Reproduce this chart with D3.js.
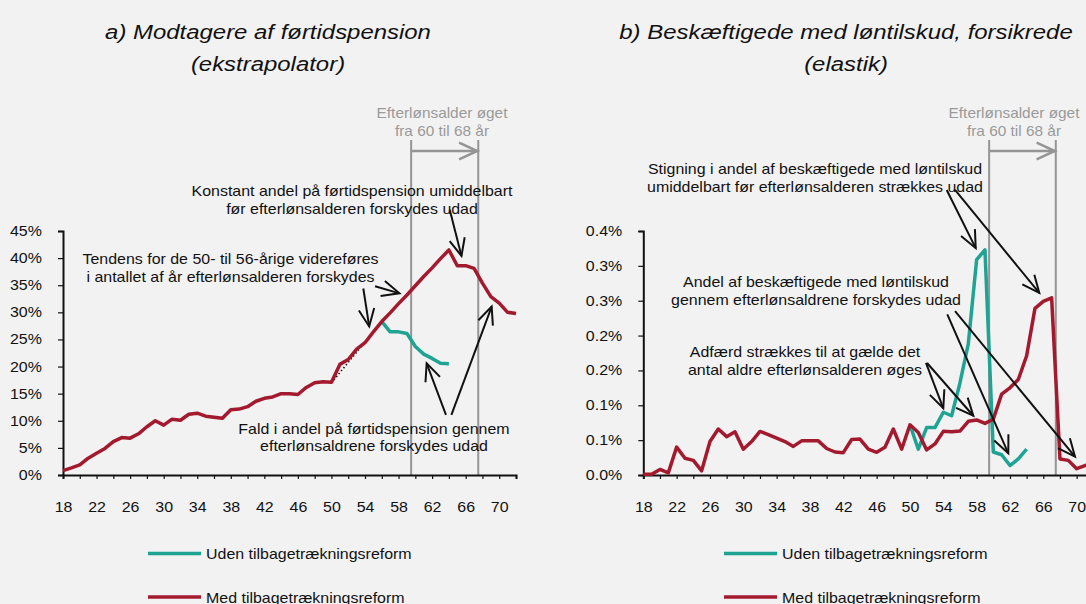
<!DOCTYPE html>
<html>
<head>
<meta charset="utf-8">
<script src="https://cdn.jsdelivr.net/npm/d3@7/dist/d3.min.js"></script>
<style>
  html, body { margin: 0; padding: 0; background: #F2F2F2; }
  svg { display: block; font-family: "Liberation Sans", Arial, sans-serif; }
</style>
</head>
<body>
<svg id="chart" width="1086" height="604"></svg>
<script>
// ---------------- DATA ----------------
const ages = [18,19,20,21,22,23,24,25,26,27,28,29,30,31,32,33,34,35,36,37,38,39,40,41,42,43,44,45,
              46,47,48,49,50,51,52,53,54,55,56,57,58,59,60,61,62,63,64,65,66,67,68,69,70,71,72];

// a) Modtagere af førtidspension (%)
const leftMed = [0.8,1.3,1.85,3.1,4.0,4.9,6.15,6.9,6.8,7.6,
                 8.9,10.0,9.2,10.3,10.1,11.2,11.4,10.85,10.65,10.45,
                 12.05,12.15,12.6,13.6,14.15,14.4,15.0,15.0,14.85,16.15,
                 17.0,17.2,17.1,20.4,21.3,23.2,24.4,26.4,28.3,29.9,
                 31.6,33.2,34.9,36.6,38.2,39.9,41.5,38.6,38.6,38.1,
                 35.4,32.9,31.7,30.0,29.8];
const leftUdenAges = [56,57,58,59,60,61,62,63,64];
const leftUden = [28.3,26.4,26.4,26.1,23.7,22.3,21.5,20.6,20.5];
const trendAges = [50,56];
const trendVals = [17.0,28.3];

// b) Beskæftigede med løntilskud, forsikrede (%)
const rightMed = [0.001,0.001,0.008,0.003,0.040,0.024,0.021,0.006,0.048,0.066,
                  0.055,0.062,0.037,0.048,0.0625,0.058,0.053,0.048,0.041,0.049,
                  0.049,0.049,0.038,0.033,0.032,0.051,0.0515,0.037,0.0326,0.0397,
                  0.066,0.037,0.072,0.061,0.036,0.0446,0.0626,0.062,0.063,0.077,
                  0.079,0.074,0.080,0.116,0.125,0.137,0.171,0.239,0.249,0.254,
                  0.023,0.021,0.009,0.0136,0.016];
const rightUdenAges = [50,51,52,53,54,55,56,57,58,59,60,61,62,63,64];
const rightUden = [0.072,0.037,0.068,0.068,0.090,0.085,0.132,0.188,0.309,0.323,0.033,0.029,0.0136,0.023,0.037];

// ticks
const xTickMarks = [18,20,22,24,26,28,30,32,34,36,38,40,42,44,46,48,50,52,54,56,58,60,62,64,66,68,70,72];
const xTickLabels = [18,22,26,30,34,38,42,46,50,54,58,62,66,70];
const leftYTicks = [0,5,10,15,20,25,30,35,40,45];
const leftYLabels = ["0%","5%","10%","15%","20%","25%","30%","35%","40%","45%"];
const rightYTicks = [0,0.05,0.10,0.15,0.20,0.25,0.30,0.35];
const rightYLabels = ["0.0%","0.1%","0.1%","0.2%","0.2%","0.3%","0.3%","0.4%"];

const reformAges = [59.5, 67.5];
const seriesNames = ["Uden tilbagetrækningsreform", "Med tilbagetrækningsreform"];

// annotation arrows in data coordinates [age1, v1, age2(tip), v2]
const leftArrows = [
  [64.1, 48.9, 65.5, 40.4],
  [53.8, 34.4, 54.5, 27.4],
  [55.2, 34.8, 58.1, 33.5],
  [63.65, 11.1, 61.35, 20.6],
  [64.3, 11.1, 69.1, 31.05]
];
const rightArrows = [
  [54.41, 0.4089, 57.89, 0.3254],
  [55.41, 0.4089, 65.52, 0.2611],
  [54.48, 0.2303, 61.8, 0.0311],
  [55.41, 0.235, 69.8, 0.0264],
  [51.92, 0.1607, 54.0, 0.0957],
  [52.05, 0.1607, 57.6, 0.085]
];

// ---------------- STYLE ----------------
const RED = "#A3192E", TEAL = "#1FA393", GRAY = "#959595", GRAYTXT = "#9A9A9A", INK = "#111";
const SX = 1.14; // horizontal stretch of the reference text
const FS = 14;

const svg = d3.select("#chart");

function textLines(g, x, y, lines, lh, opts = {}) {
  lines.forEach((s, i) => {
    g.append("text")
      .attr("transform", `translate(${x},${y + i * lh}) scale(${opts.sx || SX},1)`)
      .attr("text-anchor", opts.anchor || "middle")
      .attr("font-size", opts.size || FS)
      .attr("font-style", opts.italic ? "italic" : "normal")
      .attr("fill", opts.fill || INK)
      .text(s);
  });
}

function arrow(g, x1, y1, x2, y2, color, w, len, ang) {
  g.append("line").attr("x1", x1).attr("y1", y1).attr("x2", x2).attr("y2", y2)
    .attr("stroke", color).attr("stroke-width", w).attr("stroke-linecap", "butt");
  const a = Math.atan2(y2 - y1, x2 - x1);
  const p1 = [x2 - len * Math.cos(a - ang), y2 - len * Math.sin(a - ang)];
  const p2 = [x2 - len * Math.cos(a + ang), y2 - len * Math.sin(a + ang)];
  g.append("path").attr("d", `M${p1[0]},${p1[1]}L${x2},${y2}L${p2[0]},${p2[1]}`)
    .attr("fill", "none").attr("stroke", color).attr("stroke-width", w)
    .attr("stroke-linejoin", "miter").attr("stroke-linecap", "butt");
}

function panel(cfg) {
  const g = svg.append("g");
  const x = d3.scaleLinear().domain([18, 72]).range(cfg.xr);
  const y = d3.scaleLinear().domain(cfg.yd).range([475, 231]);

  // titles
  textLines(g, cfg.titleX, 39, cfg.title, 32, {size: 21, italic: true});

  // reform vertical lines + gray arrow
  reformAges.forEach(a => {
    g.append("line").attr("x1", x(a)).attr("x2", x(a)).attr("y1", 140).attr("y2", 475)
      .attr("stroke", GRAY).attr("stroke-width", 2);
  });
  arrow(g, x(reformAges[0]), 151, x(reformAges[1]) - 1, 151, GRAY, 2.5, 20, 0.43);
  textLines(g, cfg.grayX, 118, ["Efterlønsalder øget", "fra 60 til 68 år"], 18,
    {fill: GRAYTXT, sx: 1.1});

  // axes
  const xAxis = d3.axisBottom(x).tickValues(xTickMarks).tickSize(4).tickPadding(23)
    .tickFormat(d => xTickLabels.includes(d) ? String(d) : "");
  const gx = g.append("g").attr("transform", "translate(0,475)").call(xAxis);
  gx.select(".domain").attr("stroke", INK).attr("stroke-width", 2);
  gx.selectAll(".tick line").attr("stroke", INK).attr("stroke-width", 1.2);
  gx.selectAll(".tick text").attr("font-size", FS).attr("fill", INK)
    .attr("font-family", "Liberation Sans, Arial, sans-serif")
    .attr("transform", `scale(${SX},1)`);

  const yAxis = d3.axisLeft(y).tickValues(cfg.yTicks).tickSize(5).tickPadding(13.5)
    .tickFormat((d, i) => cfg.yLabels[i]);
  const gy = g.append("g").attr("transform", `translate(${cfg.xr[0]},0)`).call(yAxis);
  gy.select(".domain").attr("stroke", INK).attr("stroke-width", 2);
  gy.selectAll(".tick line").attr("stroke", INK).attr("stroke-width", 1.2);
  gy.selectAll(".tick text").attr("font-size", FS).attr("fill", INK)
    .attr("font-family", "Liberation Sans, Arial, sans-serif")
    .attr("transform", `scale(${SX},1)`);

  // series
  const line = d3.line().x(d => x(d[0])).y(d => y(d[1]));
  if (cfg.trend) {
    g.append("path").datum(d3.zip(cfg.trend[0], cfg.trend[1])).attr("d", line)
      .attr("fill", "none").attr("stroke", INK).attr("stroke-width", 1.6)
      .attr("stroke-dasharray", "1.4,2.4");
  }
  g.append("path").datum(d3.zip(cfg.udenAges, cfg.uden)).attr("d", line)
    .attr("fill", "none").attr("stroke", TEAL).attr("stroke-width", 3.5)
    .attr("stroke-linejoin", "round");
  g.append("path").datum(d3.zip(ages, cfg.med)).attr("d", line)
    .attr("fill", "none").attr("stroke", RED).attr("stroke-width", 3.5)
    .attr("stroke-linejoin", "round");

  // annotations
  cfg.notes.forEach(n => textLines(g, n.x, n.y, n.lines, n.lh));
  cfg.arrows.forEach(a => arrow(g, x(a[0]), y(a[1]), x(a[2]), y(a[3]), INK, 2, 19, 0.42));

  // legend
  const lg = g.append("g");
  [[TEAL, 553.5, seriesNames[0]], [RED, 597, seriesNames[1]]].forEach(([c, ly, name]) => {
    lg.append("line").attr("x1", cfg.legX).attr("x2", cfg.legX + 53).attr("y1", ly).attr("y2", ly)
      .attr("stroke", c).attr("stroke-width", 3.5);
    textLines(lg, cfg.legX + 58, ly + 5.5, [name], 0, {anchor: "start"});
  });
}

panel({
  xr: [63, 516], yd: [0, 45], yTicks: leftYTicks, yLabels: leftYLabels,
  title: ["a) Modtagere af førtidspension", "(ekstrapolator)"], titleX: 268,
  med: leftMed, udenAges: leftUdenAges, uden: leftUden, trend: [trendAges, trendVals],
  legX: 148, grayX: 442,
  notes: [
    {x: 352, y: 196, lh: 17.5, lines: ["Konstant andel på førtidspension umiddelbart", "før efterlønsalderen forskydes udad"]},
    {x: 230.5, y: 263.5, lh: 18.3, lines: ["Tendens for de 50- til 56-årige videreføres", "i antallet af år efterlønsalderen forskydes"]},
    {x: 374, y: 433.5, lh: 17, lines: ["Fald i andel på førtidspension gennem", "efterlønsaldrene forskydes udad"]}
  ],
  arrows: leftArrows
});

panel({
  xr: [643.3, 1093.3], yd: [0, 0.35], yTicks: rightYTicks, yLabels: rightYLabels,
  title: ["b) Beskæftigede med løntilskud, forsikrede", "(elastik)"], titleX: 846,
  med: rightMed, udenAges: rightUdenAges, uden: rightUden, trend: null,
  legX: 724, grayX: 1014,
  notes: [
    {x: 815, y: 174, lh: 18, lines: ["Stigning i andel af beskæftigede med løntilskud", "umiddelbart før efterlønsalderen strækkes udad"]},
    {x: 816, y: 287, lh: 18.3, lines: ["Andel af beskæftigede med løntilskud", "gennem efterlønsaldrene forskydes udad"]},
    {x: 805, y: 357, lh: 18.3, lines: ["Adfærd strækkes til at gælde det", "antal aldre efterlønsalderen øges"]}
  ],
  arrows: rightArrows
});
</script>
</body>
</html>
